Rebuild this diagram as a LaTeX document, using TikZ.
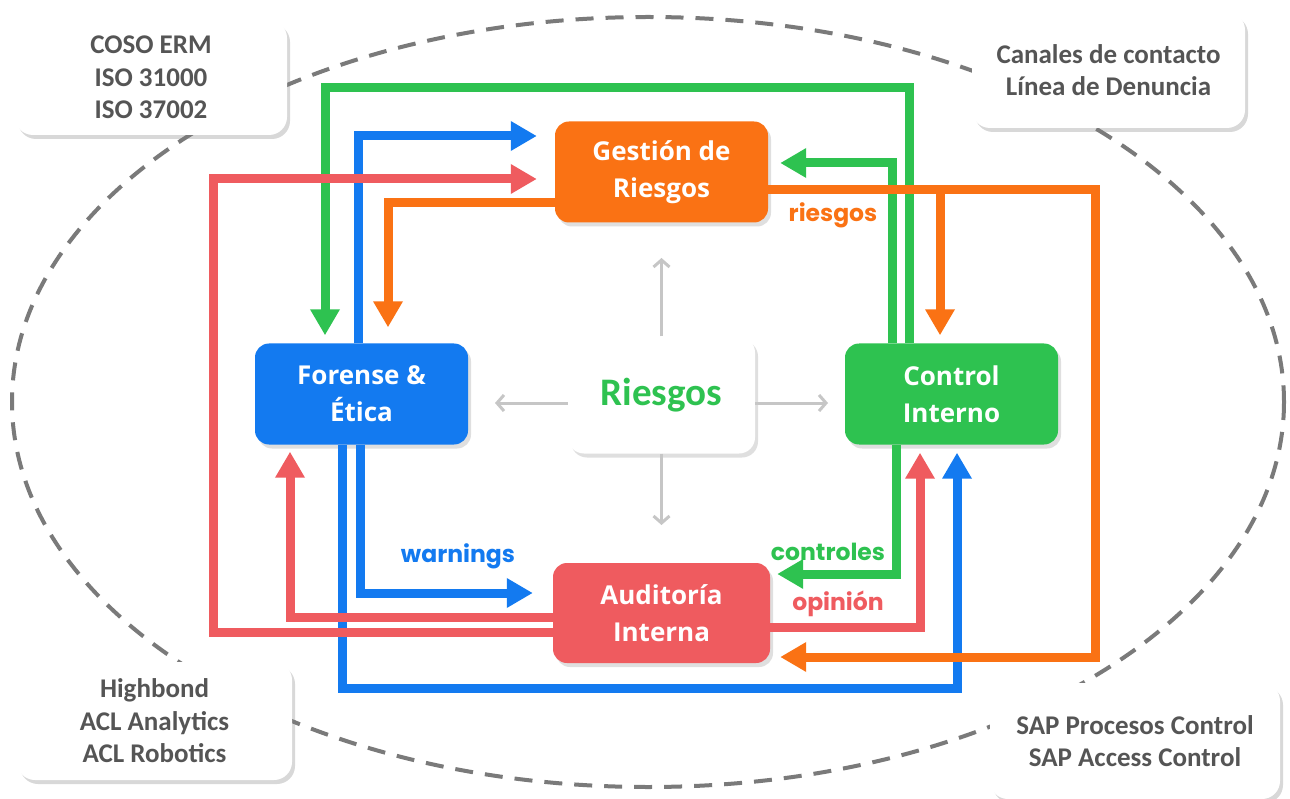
\documentclass[tikz,border=0pt]{standalone}
\usepackage{fontspec}
\setmainfont{Carlito}
\newfontfamily\osans{Open Sans}
\newfontfamily\pop{Poppins}
\usetikzlibrary{arrows.meta,shadows,calc}
\definecolor{cor}{HTML}{FA7214}
\definecolor{cbl}{HTML}{137AF0}
\definecolor{cgr}{HTML}{2EC250}
\definecolor{crd}{HTML}{EF5B5F}
\definecolor{ctx}{HTML}{555555}
\definecolor{cdash}{HTML}{7A7A7A}
\tikzset{
  colbox/.style={rounded corners=14pt, minimum width=213pt, minimum height=101pt, inner sep=0pt,
    text=white, align=center, font=\osans\bfseries\fontsize{26}{37}\selectfont,
    drop shadow={shadow xshift=3pt, shadow yshift=-4pt, opacity=0.25}},
  callout/.style={fill=white, rounded corners=18pt, inner sep=0pt, text=ctx, align=center,
    font=\bfseries\fontsize{27}{32.5}\selectfont,
    drop shadow={shadow xshift=3pt, shadow yshift=-4pt, opacity=0.3}},
  conn/.style={line width=9pt, -{Triangle[width=28pt,length=26pt]}},
  warrow/.style={draw=gray!45, line width=3pt, -{Straight Barb[length=7pt,width=16pt]}},
  lab/.style={font=\pop\bfseries\fontsize{23.5}{26}\selectfont, inner sep=0pt},
  dashell/.style={draw=cdash, line width=4pt, dash pattern=on 18pt off 12pt}
}
\begin{document}
\begin{tikzpicture}[x=1pt,y=-1pt]
\useasboundingbox (0,0) rectangle (1290,799);
\fill[white] (0,0) rectangle (1290,799);
% outer dashed ellipse
\draw[dashell] (648,402) ellipse [x radius=636, y radius=385];
% callouts
\node[callout, minimum width=272pt, minimum height=115pt] (coso) at (151,77.5) {COSO ERM\\ISO 31000\\ISO 37002};
\node[callout, minimum width=273pt, minimum height=116pt] (canal) at (1108.5,70) {Canales de contacto\\Línea de Denuncia};
\node[callout, minimum width=275pt, minimum height=118pt] (high) at (154.5,721) {Highbond\\ACL Analytics\\ACL Robotics};
\node[callout, minimum width=290pt, minimum height=116pt] (sap) at (1135,741) {SAP Procesos Control\\SAP Access Control};
% main boxes
\node[colbox, fill=cor] (gest) at (661.5,172) {Gestión de\\Riesgos};
\node[colbox, fill=cbl] (fore) at (361.5,394) {Forense \&\\Ética};
\node[colbox, fill=cgr] (ctrl) at (951.5,394) {Control\\Interno};
\node[colbox, fill=crd, minimum width=217pt, minimum height=100pt] (aud) at (661.5,613) {Auditoría\\Interna};
\node[fill=white, rounded corners=16pt, minimum width=187pt, minimum height=117pt, inner sep=0pt,
  text=cgr, font=\bfseries\fontsize{39}{42}\selectfont,
  drop shadow={shadow xshift=3pt, shadow yshift=-4pt, opacity=0.25}] (ris) at (661.5,395) {Riesgos};
% white arrows around Riesgos
\coordinate (wu) at (661.5,258);
\coordinate (wd) at (661.5,525);
\coordinate (wl) at (495,403);
\coordinate (wr) at (828,403);
\draw[warrow] (ris.north) -- (wu);
\draw[warrow] (ris.south) -- (wd);
\draw[warrow] (ris.west |- wl) -- (wl);
\draw[warrow] (ris.east |- wr) -- (wr);
% coordinates for connector bends
\coordinate (gA) at (909,88);
\coordinate (gB) at (325,88);
\coordinate (gC) at (892,163);
\coordinate (gD) at (896,574);
\coordinate (bA) at (358,136);
\coordinate (bB) at (360,593);
\coordinate (bC) at (342,688);
\coordinate (bD) at (957,688);
\coordinate (rA) at (213,632);
\coordinate (rB) at (213,179);
\coordinate (rC) at (290,617);
\coordinate (rD) at (920,627);
\coordinate (oA) at (940,190);
\coordinate (oB) at (1095,190);
\coordinate (oC) at (1095,657);
\coordinate (oD) at (388,203);
% green
\draw[conn, cgr, shorten >=8pt] (ctrl.north -| gA) -- (gA) -- (gB) -- (fore.north -| gB);
\draw[conn, cgr, shorten >=12pt] (ctrl.north -| gC) -- (gC) -- (gest.east |- gC);
\draw[conn, cgr, shorten >=7pt] (ctrl.south -| gD) -- (gD) -- (aud.east |- gD);
% blue
\draw[conn, cbl, shorten >=18pt] (fore.north -| bA) -- (bA) -- (gest.west |- bA);
\draw[conn, cbl, shorten >=20pt] (fore.south -| bB) -- (bB) -- (aud.west |- bB);
\draw[conn, cbl, shorten >=8pt] (fore.south -| bC) -- (bC) -- (bD) -- (ctrl.south -| bD);
% red
\draw[conn, crd, shorten >=18pt] (aud.west |- rA) -- (rA) -- (rB) -- (gest.west |- rB);
\draw[conn, crd, shorten >=7pt] (aud.west |- rC) -- (rC) -- (fore.south -| rC);
\draw[conn, crd, shorten >=8pt] (aud.east |- rD) -- (rD) -- (ctrl.south -| rD);
% orange
\draw[conn, cor, shorten >=16pt] (gest.west |- oD) -- (oD) -- (fore.north -| oD);
\draw[conn, cor, shorten >=10pt] (gest.east |- oB) -- (oB) -- (oC) -- (aud.east |- oC);
\draw[conn, cor, shorten >=8pt] (gest.east |- oA) -- (oA) -- (ctrl.north -| oA);
% labels
\node[lab, text=cor] (lriesgos) at (833,215) {riesgos};
\node[lab, text=cbl] (lwarn) at (458,556) {warnings};
\node[lab, text=cgr] (lctrl) at (828,552) {controles};
\node[lab, text=crd] (lopin) at (838,604) {opinión};
\end{tikzpicture}
\end{document}
